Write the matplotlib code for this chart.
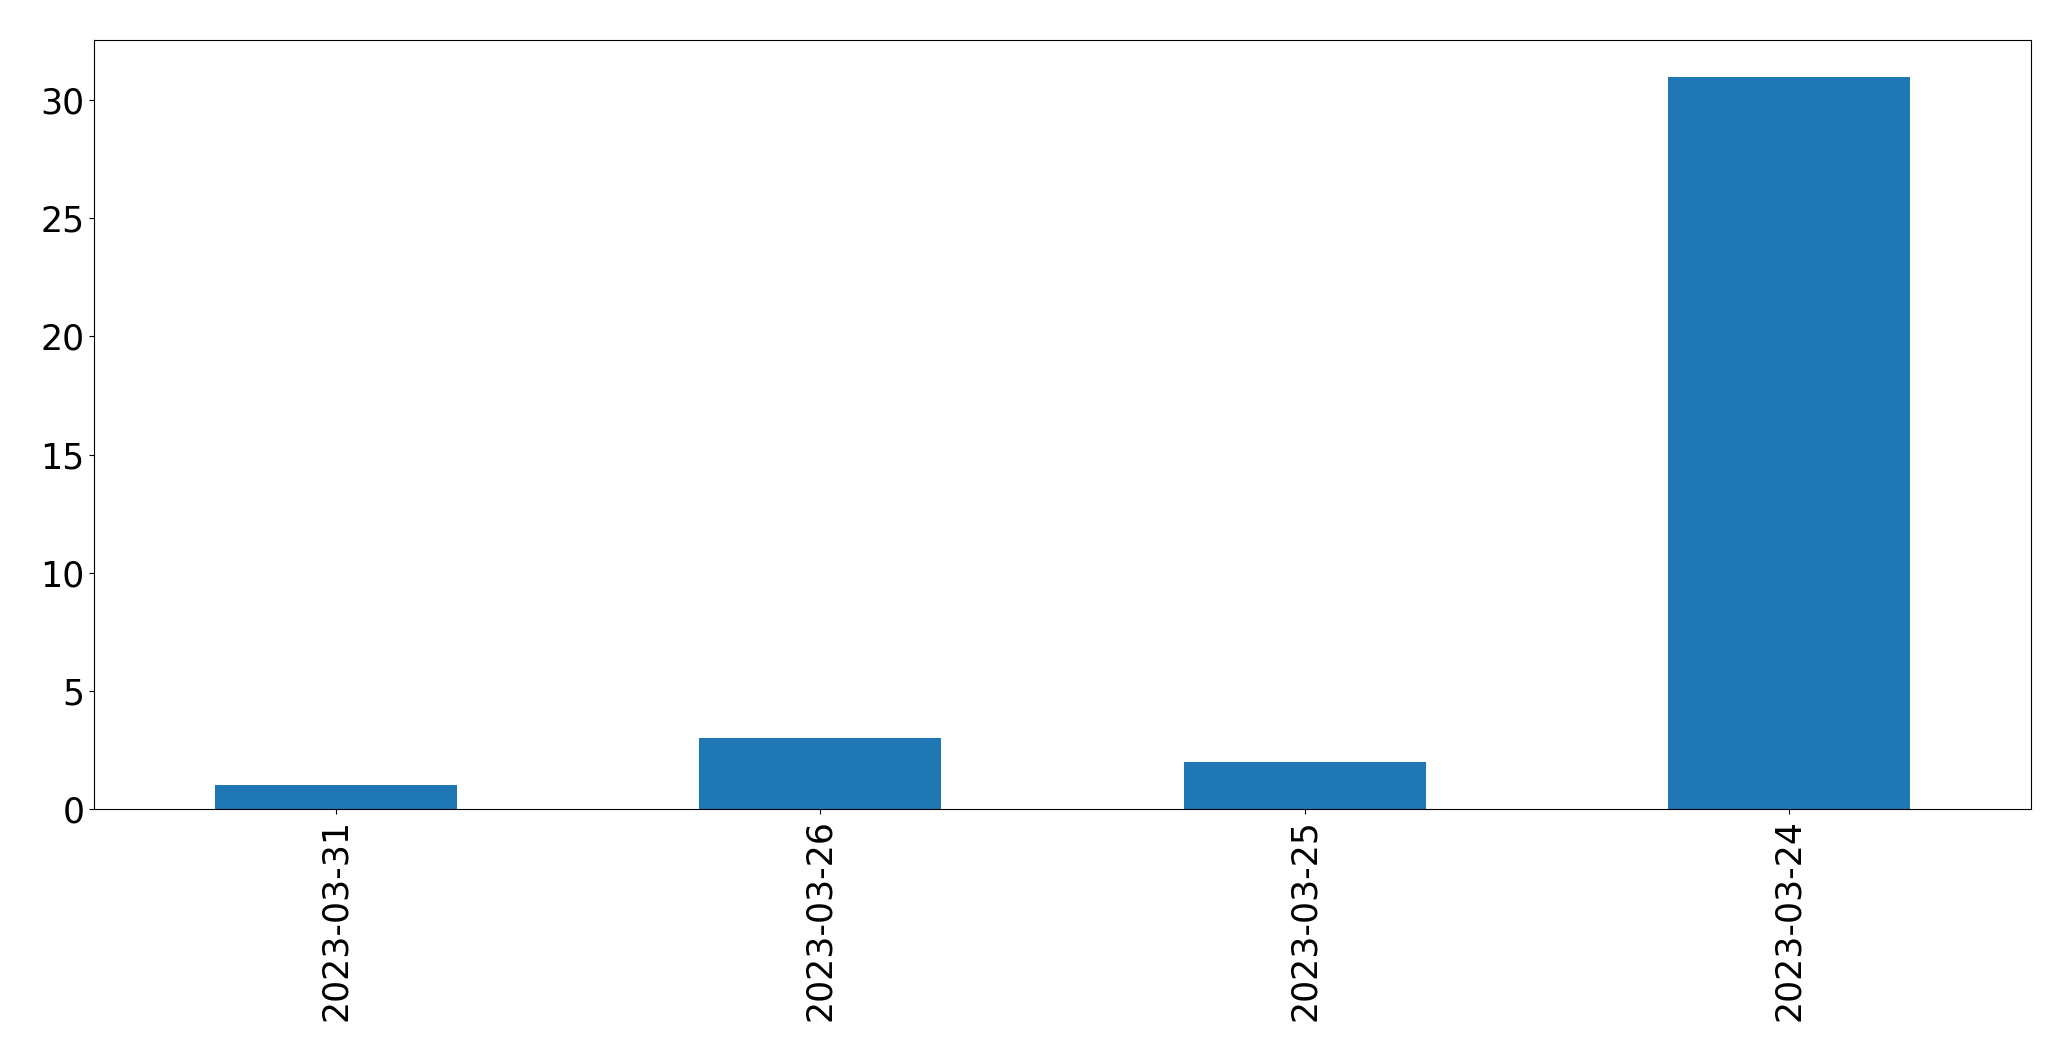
import matplotlib
matplotlib.use("Agg")
import matplotlib.pyplot as plt
import pandas as pd

dates = ["2023-03-31", "2023-03-26", "2023-03-25", "2023-03-24"]
counts = [1, 3, 2, 31]

W, H = 2071, 1061
fig = plt.figure(figsize=(W / 100, H / 100), dpi=100)
ax = fig.add_axes([94 / W, (H - 809) / H, (2031 - 94) / W, (809 - 40) / H])

s = pd.Series(counts, index=dates)
s.plot(kind="bar", ax=ax, color="#1f77b4", fontsize=25)
ax.tick_params(axis="both", labelsize=25)

fig.savefig("out.png", dpi=100)
